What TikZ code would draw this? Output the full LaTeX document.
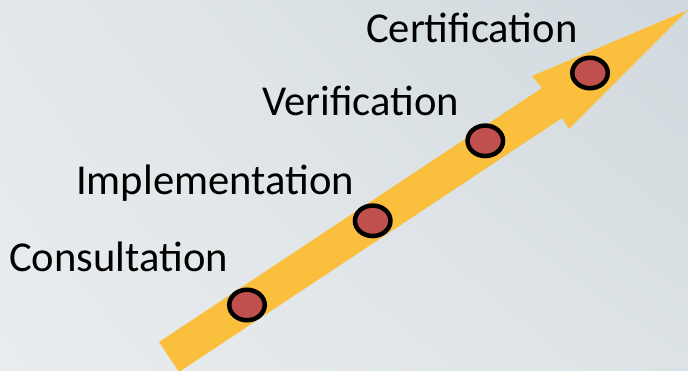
\documentclass[tikz,border=0pt]{standalone}
\usepackage{fontspec}
\setmainfont{Carlito}
\usetikzlibrary{shapes.geometric,shadings}
\definecolor{arrowyellow}{HTML}{F9BF3D}
\definecolor{dotred}{HTML}{C0504D}
\definecolor{bgUL}{HTML}{E3E8EA}
\definecolor{bgUR}{HTML}{D0D9DE}
\definecolor{bgLL}{HTML}{EAEDEF}
\definecolor{bgLR}{HTML}{DCE2E5}
\tikzset{
  stage/.style={anchor=base west, inner sep=0pt, font=\fontsize{42.6}{50}\selectfont, text=black},
  dot/.style={ellipse, draw=black, line width=4.5pt, fill=dotred, minimum width=35.5pt, minimum height=30.5pt, inner sep=0pt},
}
\begin{document}
\begin{tikzpicture}[x=1pt,y=1pt]
\useasboundingbox (0,0) rectangle (688,371);
\shade[upper left=bgUL, upper right=bgUR, lower left=bgLL, lower right=bgLR] (0,0) rectangle (688,371);
\begin{scope}
\clip (0,0) rectangle (688,371);
\fill[arrowyellow] (159,29) -- (542,283) -- (532,295) -- (688,361) -- (569,242) -- (562,253) -- (179,-1) -- cycle;
\end{scope}
\node[dot] (d1) at (247,66) {};
\node[dot] (d2) at (372.7,150.2) {};
\node[dot] (d3) at (485.3,230.2) {};
\node[dot] (d4) at (590,298) {};
\node[stage] (t1) at (9,99) {Consultation};
\node[stage] (t2) at (76,176) {Implementation};
\node[stage] (t3) at (262,255) {Verification};
\node[stage] (t4) at (366,328.7) {Certification};
\end{tikzpicture}
\end{document}
